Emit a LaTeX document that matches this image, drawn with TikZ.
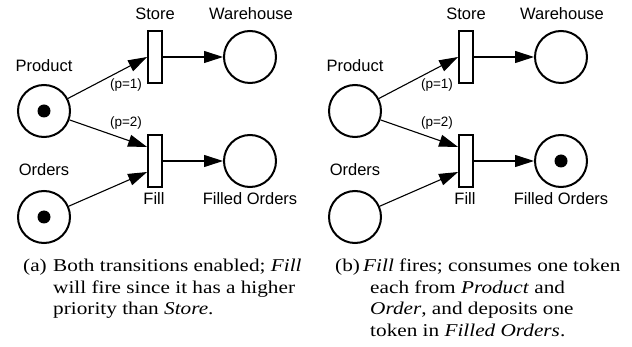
\documentclass[tikz,border=0pt]{standalone}
\usepackage{fontspec}
\setmainfont{Liberation Serif}
\newfontfamily\lsans{Liberation Sans}
\usetikzlibrary{arrows.meta}
\begin{document}
\begin{tikzpicture}[x=1pt,y=-1pt,
  place/.style={circle,draw,line width=2pt,minimum size=52pt,inner sep=0pt},
  trans/.style={rectangle,draw,line width=1.8pt,minimum width=14pt,minimum height=52pt,inner sep=0pt},
  lbl/.style={font=\lsans\fontsize{16.5}{19}\selectfont,inner sep=0pt,anchor=base},
  plbl/.style={font=\lsans\fontsize{13.5}{16}\selectfont,inner sep=0pt,anchor=base},
  arr/.style={line width=1.1pt,-{Triangle[length=19pt,width=12pt]}},
  captext/.style={font=\fontsize{18}{21.7}\selectfont,xscale=1.18,inner sep=0pt,anchor=base west},
  tok/.style={fill=black}]
\useasboundingbox (0,0) rectangle (632,347);

% ---------- panel (a)
\node[place] (P1) at (44,111) {};
\node[place] (O1) at (44,217) {};
\node[trans] (S1) at (155,57) {};
\node[trans] (F1) at (155,161) {};
\node[place] (W1) at (250,57) {};
\node[place] (FO1) at (250,161) {};
\fill[tok] (P1.center) circle (6.5);
\fill[tok] (O1.center) circle (6.5);

\node[lbl] (lS1) at (155,20) {Store};
\node[lbl] (lW1) at (251,20) {Warehouse};
\node[lbl] (lP1) at (44,72) {Product};
\node[lbl] (lO1) at (44,176) {Orders};
\node[lbl] (lF1) at (154,205) {Fill};
\node[lbl] (lFO1) at (250,205) {Filled Orders};
\node[plbl] (p11) at (126,89) {(p=1)};
\node[plbl] (p21) at (126,127) {(p=2)};

\draw[arr] (P1) -- (S1.west);
\draw[arr] (P1) -- ([yshift=14pt]F1.west);
\draw[arr] (O1) -- ([yshift=-11pt]F1.west);
\draw[arr] (S1) -- (W1);
\draw[arr] (F1) -- (FO1);

% ---------- panel (b)
\node[place] (P2) at (355,111) {};
\node[place] (O2) at (355,217) {};
\node[trans] (S2) at (466,57) {};
\node[trans] (F2) at (466,161) {};
\node[place] (W2) at (561,57) {};
\node[place] (FO2) at (561,161) {};
\fill[tok] (FO2.center) circle (6.5);

\node[lbl] (lS2) at (466,20) {Store};
\node[lbl] (lW2) at (562,20) {Warehouse};
\node[lbl] (lP2) at (355,72) {Product};
\node[lbl] (lO2) at (355,176) {Orders};
\node[lbl] (lF2) at (465,205) {Fill};
\node[lbl] (lFO2) at (561,205) {Filled Orders};
\node[plbl] (p12) at (437,89) {(p=1)};
\node[plbl] (p22) at (437,127) {(p=2)};

\draw[arr] (P2) -- (S2.west);
\draw[arr] (P2) -- ([yshift=14pt]F2.west);
\draw[arr] (O2) -- ([yshift=-11pt]F2.west);
\draw[arr] (S2) -- (W2);
\draw[arr] (F2) -- (FO2);

% ---------- captions
\node[captext] (ca) at (23,272) {(a)};
\node[captext] (ca1) at (53,272) {Both transitions enabled; \textit{Fill}};
\node[captext] (ca2) at (53,293.5) {will fire since it has a higher};
\node[captext] (ca3) at (53,315) {priority than \textit{Store}.};
\node[captext] (cb) at (335,272) {(b)};
\node[captext] (cb1) at (363,272) {\textit{Fill} fires; consumes one token};
\node[captext] (cb2) at (370,293.5) {each from \textit{Product} and};
\node[captext] (cb3) at (370,315) {\textit{Order}, and deposits one};
\node[captext] (cb4) at (370,336.5) {token in \textit{Filled Orders}.};
\end{tikzpicture}
\end{document}
